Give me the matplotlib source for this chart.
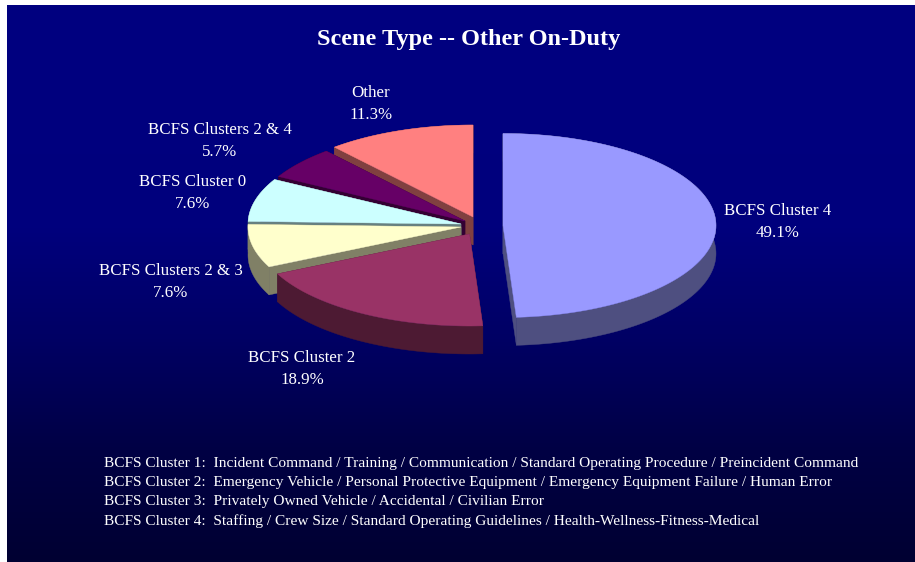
import numpy as np
import matplotlib
matplotlib.use("Agg")
import matplotlib.pyplot as plt
from matplotlib.colors import LinearSegmentedColormap

# ---- data ----
categories = ["BCFS Cluster 4", "BCFS Cluster 2", "BCFS Clusters 2 & 3",
              "BCFS Cluster 0", "BCFS Clusters 2 & 4", "Other"]
values = [49.1, 18.9, 7.6, 7.6, 5.7, 11.3]
title = "Scene Type -- Other On-Duty"
notes = [
    "BCFS Cluster 1:  Incident Command / Training / Communication / Standard Operating Procedure / Preincident Command",
    "BCFS Cluster 2:  Emergency Vehicle / Personal Protective Equipment / Emergency Equipment Failure / Human Error",
    "BCFS Cluster 3:  Privately Owned Vehicle / Accidental / Civilian Error",
    "BCFS Cluster 4:  Staffing / Crew Size / Standard Operating Guidelines / Health-Wellness-Fitness-Medical",
]

# ---- style / layout ----
top_colors = ["#9999FF", "#993366", "#FFFFCC", "#CCFFFF", "#660066", "#FF8080"]
side_colors = ["#4E4F80", "#4D1A33", "#808066", "#668080", "#330033", "#804040"]
centers = [(503, 225.5), (469.5, 234), (461, 227), (461, 224), (465, 221), (473, 217)]
label_pos = [(778, 222), (302, 369), (171, 282), (193, 193), (220, 141), (371, 104)]
draw_order = [5, 4, 3, 2, 1, 0]
RX, RY, DEPTH = 213, 92, 28
W, H = 915, 562

plt.rcParams["font.family"] = ["Liberation Serif", "DejaVu Serif"]
fig = plt.figure(figsize=(W / 100, H / 100), dpi=100, facecolor="white")
ax = fig.add_axes([0, 0, 1, 1])
ax.axis("off")

cmap = LinearSegmentedColormap.from_list(
    "bg", [(0, "#000080"), (0.4, "#00007D"), (0.6, "#000064"), (0.8, "#000044"), (1, "#000032")])
ax.imshow(np.linspace(0, 1, 256).reshape(-1, 1), cmap=cmap, aspect="auto",
          extent=(7, W, H, 5), zorder=0)
ax.set_xlim(0, W)
ax.set_ylim(H, 0)

edges = np.radians(np.concatenate([[0], np.cumsum(values)]) / sum(values) * 360)


def rim(cx, cy, a0, a1):
    t = np.linspace(a0, a1, 160)
    return cx + RX * np.sin(t), cy - RY * np.cos(t)


z = 2
for i in draw_order:
    cx, cy = centers[i]
    x, y = rim(cx, cy, edges[i], edges[i + 1])
    # extruded side: rim band and both cut faces
    ax.fill(np.r_[x, x[::-1]], np.r_[y, y[::-1] + DEPTH], color=side_colors[i], lw=0.3, zorder=z)
    for xe, ye in ((x[0], y[0]), (x[-1], y[-1])):
        ax.fill([cx, xe, xe, cx], [cy, ye, ye + DEPTH, cy + DEPTH],
                color=side_colors[i], lw=0.3, zorder=z)
    ax.fill(np.r_[cx, x], np.r_[cy, y], color=top_colors[i], lw=0.3, zorder=z + 1)
    z += 2

for name, val, (lx, ly) in zip(categories, values, label_pos):
    ax.text(lx, ly, f"{name}\n{val:.1f}%", color="white", fontsize=12.2, ha="center",
            va="center", linespacing=1.5, zorder=30)

ax.text(469, 40, title, color="white", fontsize=17.5, fontweight="bold",
        ha="center", va="center", zorder=30)

for k, line in enumerate(notes):
    ax.text(104, 463 + k * 19.4, line, color="white", fontsize=11.05, ha="left",
            va="center", zorder=30)

fig.savefig("out.png", dpi=100, facecolor="white")
